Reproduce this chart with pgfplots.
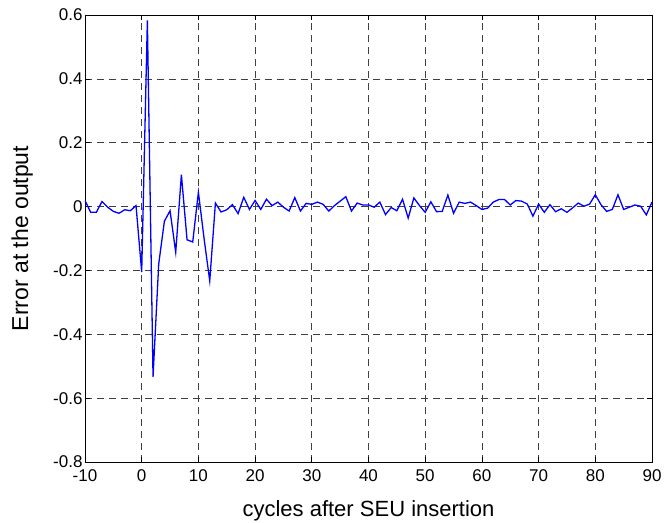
\documentclass[border=0pt]{standalone}
\usepackage{fontspec}
\setmainfont{Liberation Sans}
\usepackage{pgfplots}
\pgfplotsset{compat=1.18}

\begin{document}
\begin{tikzpicture}
\begin{axis}[
  scale only axis,
  width=567pt, height=447pt,
  xmin=-10, xmax=90,
  ymin=-0.8, ymax=0.6,
  xtick={-10,0,...,90},
  ytick={-0.8,-0.6,...,0.6},
  /pgf/number format/assume math mode=true,
  /pgf/number format/fixed,
  /pgf/number format/precision=1,
  tick label style={font=\fontsize{17}{20}\selectfont},
  xlabel={cycles after SEU insertion},
  ylabel={Error at the output},
  xlabel style={font=\fontsize{22}{26}\selectfont, at={(axis description cs:0.5,0)},
    anchor=base, inner sep=0pt, yshift=-54pt},
  ylabel style={font=\fontsize{23}{27}\selectfont, at={(axis description cs:0,0.5)},
    anchor=south, inner sep=0pt, yshift=52pt},
  tick align=inside,
  major tick length=5pt,
  xticklabel style={yshift=-4pt},
  yticklabel style={xshift=1pt},
  grid=major,
  grid style={black!75, line width=0.6pt, dash pattern=on 7pt off 5pt},
  axis line style={line width=0.8pt},
  every tick/.style={black, line width=0.6pt},
]
\addplot[blue, line width=1.3pt] coordinates {
(-10,0.019) (-9,-0.018) (-8,-0.018) (-7,0.016) (-6,-0.002) (-5,-0.015)
(-4,-0.021) (-3,-0.010) (-2,-0.013) (-1,0.003) (0,-0.205) (1,0.583)
(2,-0.533) (3,-0.180) (4,-0.046) (5,-0.013) (6,-0.143) (7,0.100)
(8,-0.104) (9,-0.111) (10,0.045) (11,-0.100) (12,-0.233) (13,0.011)
(14,-0.017) (15,-0.010) (16,0.006) (17,-0.022) (18,0.029) (19,-0.009)
(20,0.019) (21,-0.009) (22,0.023) (23,0.003) (24,0.014) (25,-0.002)
(26,-0.014) (27,0.028) (28,-0.014) (29,0.010) (30,0.007) (31,0.014)
(32,0.007) (33,-0.014) (34,0.003) (35,0.017) (36,0.031) (37,-0.014)
(38,0.011) (39,0.005) (40,0.005) (41,-0.002) (42,0.014) (43,-0.025)
(44,-0.003) (45,-0.013) (46,0.023) (47,-0.036) (48,0.027) (49,0.003)
(50,-0.018) (51,0.015) (52,-0.016) (53,-0.015) (54,0.036) (55,-0.021)
(56,0.014) (57,0.010) (58,0.014) (59,0.003) (60,-0.009) (61,-0.005)
(62,0.014) (63,0.022) (64,0.022) (65,0.005) (66,0.019) (67,0.017)
(68,0.008) (69,-0.030) (70,0.008) (71,-0.018) (72,0.006) (73,-0.016)
(74,-0.007) (75,-0.018) (76,-0.004) (77,0.011) (78,0.001) (79,0.008)
(80,0.037) (81,0.006) (82,-0.015) (83,-0.009) (84,0.037) (85,-0.009)
(86,-0.002) (87,0.005) (88,0.001) (89,-0.026) (90,0.014)
};
\end{axis}
% page frame: same margins round the axis box as in the reference
\path ([xshift=-85pt,yshift=-60pt]current axis.south west)
  rectangle ([xshift=13pt,yshift=15pt]current axis.north east);
\end{tikzpicture}
\end{document}
